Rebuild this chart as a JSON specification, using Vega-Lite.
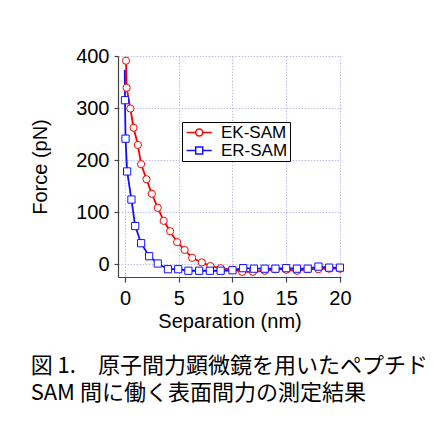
{
  "$schema": "https://vega.github.io/schema/vega-lite/v6.json",
  "width": 223,
  "height": 221,
  "autosize": "none",
  "padding": {"left": 118, "top": 56, "right": 96, "bottom": 150},
  "background": "white",
  "config": {
    "view": {"stroke": null},
    "font": "Liberation Sans",
    "axis": {
      "labelFont": "Liberation Sans",
      "titleFont": "Liberation Sans",
      "labelFontSize": 20,
      "titleFontSize": 20,
      "titleFontWeight": "normal",
      "labelColor": "black",
      "titleColor": "black",
      "domainColor": "#444444",
      "tickColor": "#444444",
      "domainWidth": 1.2,
      "tickWidth": 1.2,
      "gridColor": "#bcbcf0",
      "gridDash": [1.5, 1.5],
      "gridWidth": 1
    }
  },
  "title": {
    "text": ["図 1.　原子間力顕微鏡を用いたペプチド", "SAM 間に働く表面間力の測定結果"],
    "orient": "bottom",
    "anchor": "start",
    "frame": "bounds",
    "font": "Noto Sans CJK JP",
    "fontSize": 22,
    "fontWeight": "normal",
    "lineHeight": 27,
    "color": "black",
    "offset": 25
  },
  "data": {
    "values": [
      {"series": "EK-SAM", "x": 0.1, "y": 391, "marker": true},
      {"series": "EK-SAM", "x": 0.15, "y": 339, "marker": true},
      {"series": "EK-SAM", "x": 0.5, "y": 299, "marker": true},
      {"series": "EK-SAM", "x": 0.8, "y": 262, "marker": true},
      {"series": "EK-SAM", "x": 1.2, "y": 229, "marker": true},
      {"series": "EK-SAM", "x": 1.5, "y": 192, "marker": true},
      {"series": "EK-SAM", "x": 2.0, "y": 163, "marker": true},
      {"series": "EK-SAM", "x": 2.5, "y": 135, "marker": true},
      {"series": "EK-SAM", "x": 3.05, "y": 108, "marker": true},
      {"series": "EK-SAM", "x": 3.6, "y": 83, "marker": true},
      {"series": "EK-SAM", "x": 4.2, "y": 63, "marker": true},
      {"series": "EK-SAM", "x": 4.85, "y": 42, "marker": true},
      {"series": "EK-SAM", "x": 5.55, "y": 27, "marker": true},
      {"series": "EK-SAM", "x": 6.25, "y": 12, "marker": true},
      {"series": "EK-SAM", "x": 7.15, "y": 3, "marker": true},
      {"series": "EK-SAM", "x": 7.95, "y": -4, "marker": true},
      {"series": "EK-SAM", "x": 8.9, "y": -8, "marker": true},
      {"series": "EK-SAM", "x": 10.0, "y": -11, "marker": true},
      {"series": "EK-SAM", "x": 10.9, "y": -15, "marker": true},
      {"series": "EK-SAM", "x": 11.9, "y": -15, "marker": true},
      {"series": "EK-SAM", "x": 13.0, "y": -13, "marker": true},
      {"series": "EK-SAM", "x": 14.0, "y": -10, "marker": true},
      {"series": "EK-SAM", "x": 15.0, "y": -11, "marker": true},
      {"series": "EK-SAM", "x": 16.0, "y": -13, "marker": true},
      {"series": "EK-SAM", "x": 17.0, "y": -10, "marker": true},
      {"series": "EK-SAM", "x": 18.0, "y": -10, "marker": true},
      {"series": "EK-SAM", "x": 19.0, "y": -9, "marker": true},
      {"series": "EK-SAM", "x": 20.0, "y": -9, "marker": true},
      {"series": "ER-SAM", "x": -0.02, "y": 373, "marker": false},
      {"series": "ER-SAM", "x": 0.0, "y": 315, "marker": true},
      {"series": "ER-SAM", "x": 0.05, "y": 241, "marker": true},
      {"series": "ER-SAM", "x": 0.2, "y": 178, "marker": true},
      {"series": "ER-SAM", "x": 0.6, "y": 124, "marker": true},
      {"series": "ER-SAM", "x": 0.95, "y": 73, "marker": true},
      {"series": "ER-SAM", "x": 1.5, "y": 40, "marker": true},
      {"series": "ER-SAM", "x": 2.25, "y": 15, "marker": true},
      {"series": "ER-SAM", "x": 3.05, "y": 1, "marker": true},
      {"series": "ER-SAM", "x": 4.0, "y": -10, "marker": true},
      {"series": "ER-SAM", "x": 4.95, "y": -10, "marker": true},
      {"series": "ER-SAM", "x": 5.9, "y": -13, "marker": true},
      {"series": "ER-SAM", "x": 6.9, "y": -13, "marker": true},
      {"series": "ER-SAM", "x": 7.9, "y": -13, "marker": true},
      {"series": "ER-SAM", "x": 8.9, "y": -13, "marker": true},
      {"series": "ER-SAM", "x": 10.0, "y": -12, "marker": true},
      {"series": "ER-SAM", "x": 11.0, "y": -8, "marker": true},
      {"series": "ER-SAM", "x": 12.0, "y": -9, "marker": true},
      {"series": "ER-SAM", "x": 13.0, "y": -9, "marker": true},
      {"series": "ER-SAM", "x": 14.0, "y": -9, "marker": true},
      {"series": "ER-SAM", "x": 15.0, "y": -8, "marker": true},
      {"series": "ER-SAM", "x": 16.0, "y": -9, "marker": true},
      {"series": "ER-SAM", "x": 17.0, "y": -9, "marker": true},
      {"series": "ER-SAM", "x": 18.0, "y": -5, "marker": true},
      {"series": "ER-SAM", "x": 19.0, "y": -7, "marker": true},
      {"series": "ER-SAM", "x": 20.0, "y": -7, "marker": true}
    ]
  },
  "encoding": {
    "x": {
      "field": "x",
      "type": "quantitative",
      "scale": {"domain": [-0.65, 20.1], "nice": false, "zero": false},
      "axis": {
        "title": "Separation (nm)",
        "values": [0, 5, 10, 15, 20],
        "tickSize": 5,
        "labelPadding": 6,
        "titlePadding": 3,
        "labelFlush": false,
        "labelOverlap": false
      }
    },
    "y": {
      "field": "y",
      "type": "quantitative",
      "scale": {"domain": [-25, 400], "nice": false, "zero": false},
      "axis": {
        "title": "Force (pN)",
        "values": [0, 100, 200, 300, 400],
        "tickSize": 4,
        "labelPadding": 5,
        "titlePadding": 25,
        "labelFlush": false,
        "labelOverlap": false
      }
    }
  },
  "layer": [
    {
      "mark": {"type": "line", "strokeWidth": 1.8},
      "encoding": {
        "color": {
          "field": "series",
          "type": "nominal",
          "scale": {"domain": ["EK-SAM", "ER-SAM"], "range": ["#ff0000", "#1010ff"]},
          "legend": {
            "title": null,
            "orient": "none",
            "legendX": 64,
            "legendY": 66,
            "padding": 2,
            "strokeColor": "black",
            "fillColor": "white",
            "labelFont": "Liberation Sans",
            "labelFontSize": 17,
            "labelColor": "black",
            "symbolSize": 225,
            "symbolStrokeWidth": 1.5,
            "symbolOffset": 6.7,
            "labelOffset": 13.3,
            "rowPadding": 0,
            "encode": {
              "symbols": {
                "update": {
                  "shape": {"signal": "datum.value === 'EK-SAM' ? 'M-1.67,0L-0.47,0M0.47,0L1.67,0M-0.47,0A0.47,0.47,0,1,1,0.47,0A0.47,0.47,0,1,1,-0.47,0Z' : 'M-1.67,0L-0.47,0M0.47,0L1.67,0M-0.47,-0.47L0.47,-0.47L0.47,0.47L-0.47,0.47Z'"},
                  "fill": {"value": "white"},
                  "fillOpacity": {"value": 1}
                }
              }
            }
          }
        }
      }
    },
    {
      "transform": [{"filter": "datum.marker && datum.series === 'EK-SAM'"}],
      "mark": {"type": "point", "shape": "circle", "filled": false, "fill": "white", "stroke": "#ff0000", "opacity": 1, "size": 52, "strokeWidth": 1}
    },
    {
      "transform": [{"filter": "datum.marker && datum.series === 'ER-SAM'"}],
      "mark": {"type": "point", "shape": "square", "filled": false, "fill": "white", "stroke": "#1010ff", "opacity": 1, "size": 52, "strokeWidth": 1}
    }
  ]
}
